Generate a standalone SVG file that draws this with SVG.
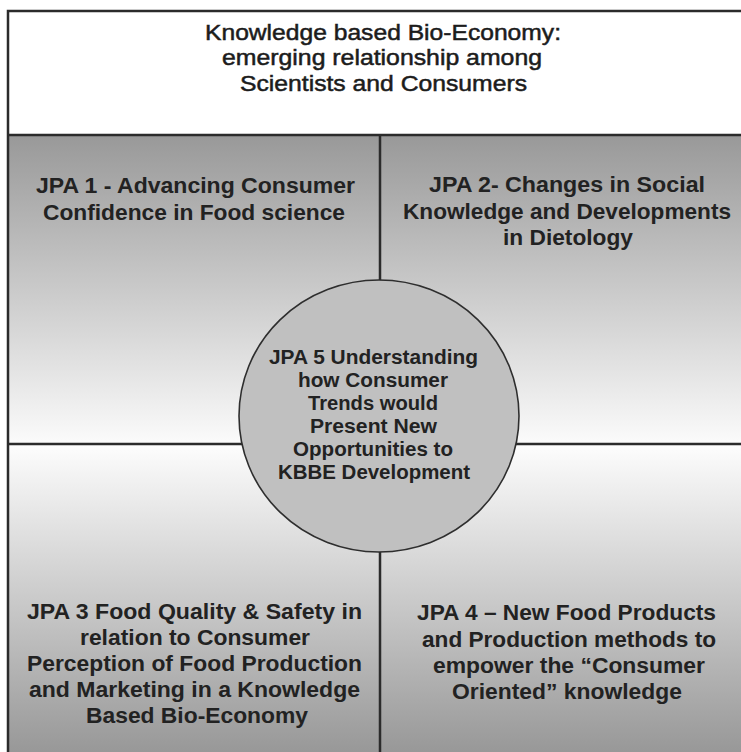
<svg xmlns="http://www.w3.org/2000/svg" width="741" height="752" viewBox="0 0 741 752">
  <defs>
    <linearGradient id="gradTop" x1="0" y1="136" x2="0" y2="444" gradientUnits="userSpaceOnUse">
      <stop offset="0" stop-color="#999999"/>
      <stop offset="1" stop-color="#fbfbfb"/>
    </linearGradient>
    <linearGradient id="gradBottom" x1="0" y1="444" x2="0" y2="752" gradientUnits="userSpaceOnUse">
      <stop offset="0" stop-color="#fdfdfd"/>
      <stop offset="1" stop-color="#989898"/>
    </linearGradient>
    <style>
      .frame { fill: none; stroke: #2b2b2b; stroke-width: 2.5; }
      .rule { stroke: #2b2b2b; stroke-width: 2.5; }
      .title { font-family: "Liberation Sans", Arial, sans-serif; font-size: 22px; fill: #1c1c1c; stroke: #1c1c1c; stroke-width: 0.5; text-anchor: middle; }
      .label { font-family: "Liberation Sans", Arial, sans-serif; font-size: 22px; font-weight: bold; fill: #222222; text-anchor: middle; }
      .core { font-family: "Liberation Sans", Arial, sans-serif; font-size: 19.5px; font-weight: bold; fill: #222222; text-anchor: middle; }
      .hub { fill: #c0c0c0; stroke: #2e2e2e; stroke-width: 1.6; }
    </style>
  </defs>

  <rect x="0" y="0" width="741" height="752" fill="#ffffff"/>

  <!-- quadrant backgrounds -->
  <rect x="8" y="136" width="746" height="308" fill="url(#gradTop)"/>
  <rect x="8" y="444" width="746" height="310" fill="url(#gradBottom)"/>

  <!-- outer frame and dividing rules -->
  <g id="dividers">
    <rect class="frame" x="8" y="11" width="746" height="760"/>
    <line class="rule" x1="8" y1="135" x2="754" y2="135"/>
    <line class="rule" x1="380" y1="135" x2="380" y2="760"/>
    <line class="rule" x1="8" y1="444" x2="754" y2="444"/>
  </g>

  <g id="title">
    <text class="title" x="383" y="40" textLength="356" lengthAdjust="spacingAndGlyphs">Knowledge based Bio-Economy:</text>
    <text class="title" x="382" y="65" textLength="320" lengthAdjust="spacingAndGlyphs">emerging relationship among</text>
    <text class="title" x="383.5" y="91" textLength="287" lengthAdjust="spacingAndGlyphs">Scientists and Consumers</text>
  </g>

  <g id="jpa1">
    <text class="label" x="195.5" y="193" textLength="319" lengthAdjust="spacingAndGlyphs">JPA 1 - Advancing Consumer</text>
    <text class="label" x="194" y="220" textLength="302" lengthAdjust="spacingAndGlyphs">Confidence in Food science</text>
  </g>

  <g id="jpa2">
    <text class="label" x="567" y="192" textLength="276" lengthAdjust="spacingAndGlyphs">JPA 2- Changes in Social</text>
    <text class="label" x="567" y="219" textLength="328" lengthAdjust="spacingAndGlyphs">Knowledge and Developments</text>
    <text class="label" x="568" y="245" textLength="130" lengthAdjust="spacingAndGlyphs">in Dietology</text>
  </g>

  <g id="jpa3">
    <text class="label" x="194.5" y="619" textLength="335" lengthAdjust="spacingAndGlyphs">JPA 3 Food Quality &amp; Safety in</text>
    <text class="label" x="195" y="645" textLength="230" lengthAdjust="spacingAndGlyphs">relation to Consumer</text>
    <text class="label" x="194.5" y="671" textLength="335" lengthAdjust="spacingAndGlyphs">Perception of Food Production</text>
    <text class="label" x="194.5" y="697" textLength="331" lengthAdjust="spacingAndGlyphs">and Marketing in a Knowledge</text>
    <text class="label" x="197" y="723" textLength="222" lengthAdjust="spacingAndGlyphs">Based Bio-Economy</text>
  </g>

  <g id="jpa4">
    <text class="label" x="566.5" y="620" textLength="299" lengthAdjust="spacingAndGlyphs">JPA 4 – New Food Products</text>
    <text class="label" x="569" y="647" textLength="294" lengthAdjust="spacingAndGlyphs">and Production methods to</text>
    <text class="label" x="569" y="673" textLength="272" lengthAdjust="spacingAndGlyphs">empower the “Consumer</text>
    <text class="label" x="567" y="699" textLength="230" lengthAdjust="spacingAndGlyphs">Oriented” knowledge</text>
  </g>

  <g id="jpa5">
    <ellipse class="hub" cx="379" cy="416" rx="140" ry="136"/>
    <text class="core" x="373.5" y="364" textLength="209" lengthAdjust="spacingAndGlyphs">JPA 5 Understanding</text>
    <text class="core" x="373" y="387" textLength="150" lengthAdjust="spacingAndGlyphs">how Consumer</text>
    <text class="core" x="373" y="410" textLength="130" lengthAdjust="spacingAndGlyphs">Trends would</text>
    <text class="core" x="373.5" y="433" textLength="127" lengthAdjust="spacingAndGlyphs">Present New</text>
    <text class="core" x="373" y="456" textLength="160" lengthAdjust="spacingAndGlyphs">Opportunities to</text>
    <text class="core" x="374" y="479" textLength="192" lengthAdjust="spacingAndGlyphs">KBBE Development</text>
  </g>
</svg>
